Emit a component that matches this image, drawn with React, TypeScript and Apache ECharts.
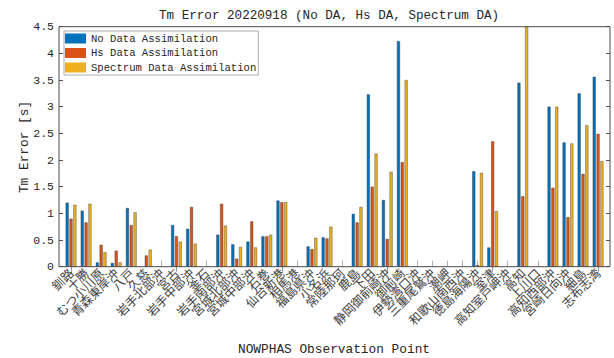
import { useEffect, useRef } from "react";
import * as echarts from "echarts";

const stations = [
  "釧路", "十勝", "むつ小川原", "青森東岸沖", "八戸", "久慈", "岩手北部沖", "宮古", "岩手中部沖",
  "釜石", "岩手南部沖", "宮城北部沖", "宮城中部沖", "石巻", "仙台新港", "相馬港", "福島県沖",
  "小名浜", "常陸那珂", "鹿島", "下田", "静岡御前崎沖", "御前崎", "伊勢湾口沖", "三重尾鷲沖",
  "潮岬", "和歌山南西沖", "徳島海陽沖", "室津", "高知室戸岬沖", "高知", "上川口", "高知西部沖",
  "宮崎日向沖", "細島", "志布志湾",
];

const noDA = [
  1.2, 1.05, 0.08, 0.07, 1.1, null, null, 0.78, 0.71, null, 0.6, 0.42, 0.47, 0.57, 1.24, null,
  0.38, 0.55, null, 0.99, 3.23, 1.25, 4.23, null, null, null, null, 1.79, 0.36, null, 3.45, null,
  3.0, 2.33, 3.25, 3.56,
];
const hsDA = [
  0.9, 0.83, 0.41, 0.3, 0.78, 0.21, null, 0.57, 1.12, null, 1.18, 0.15, 0.85, 0.57, 1.21, null,
  0.33, 0.53, null, 0.83, 1.5, 0.52, 1.96, null, null, null, null, 0.03, 2.35, null, 1.32, null,
  1.48, 0.93, 1.74, 2.49,
];
const spectrumDA = [
  1.16, 1.18, 0.27, 0.08, 1.02, 0.32, null, 0.47, 0.43, null, 0.77, 0.37, 0.36, 0.6, 1.21, null,
  0.54, 0.75, null, 1.12, 2.12, 1.78, 3.5, null, null, null, null, 1.76, 1.04, null, 4.5, null,
  3.0, 2.31, 2.65, 1.98,
];

const seriesNames = ["No Data Assimilation", "Hs Data Assimilation", "Spectrum Data Assimilation"];
const seriesColors = ["#0072BD", "#D95319", "#EDB120"];
const titleText = "Tm Error 20220918 (No DA, Hs DA, Spectrum DA)";
const xAxisName = "NOWPHAS Observation Point";
const yAxisName = "Tm Error [s]";
const yMin = 0;
const yMax = 4.5;
const yStep = 0.5;

const MONO = "'Liberation Mono', 'DejaVu Sans Mono', monospace";
const CJK = "'Noto Sans CJK JP', 'Noto Sans CJK SC', sans-serif";
const AXIS_COLOR = "#262626";

export default function App() {
  const ref = useRef<HTMLDivElement>(null);

  useEffect(() => {
    if (!ref.current) return;
    const chart = echarts.init(ref.current, undefined, { renderer: "svg" });
    const seriesData = [noDA, hsDA, spectrumDA];

    const yAxisCommon = {
      type: "value" as const,
      min: yMin,
      max: yMax,
      interval: yStep,
      splitLine: { show: false },
      axisLine: { show: false },
    };

    chart.setOption({
      animation: false,
      backgroundColor: "#ffffff",
      title: {
        text: titleText,
        left: 159,
        top: 9,
        padding: 0,
        textStyle: { fontFamily: MONO, fontSize: 12.6, fontWeight: "normal", color: AXIS_COLOR },
      },
      legend: {
        left: 64,
        top: 31,
        orient: "vertical",
        icon: "rect",
        itemWidth: 21,
        itemHeight: 10,
        itemGap: 3.5,
        padding: [2, 2, 2, 1],
        borderColor: "#9a9a9a",
        borderWidth: 0.8,
        borderRadius: 0,
        backgroundColor: "#ffffff",
        data: seriesNames,
        itemStyle: { borderWidth: 0 },
        textStyle: { fontFamily: MONO, fontSize: 10.6, color: AXIS_COLOR },
      },
      grid: { left: 63.5, right: 8.4, top: 26.7, bottom: 91.3, containLabel: false },
      xAxis: [
        {
          type: "category",
          data: stations,
          position: "bottom",
          axisLine: { show: false },
          axisTick: {
            show: true,
            inside: true,
            alignWithLabel: true,
            length: 6,
            lineStyle: { color: "#9a9a9a", width: 0.8 },
          },
          axisLabel: {
            interval: 0,
            rotate: 45,
            margin: 4,
            fontFamily: CJK,
            fontSize: 12.2,
            color: "#404040",
          },
        },
        {
          type: "category",
          data: stations,
          position: "top",
          axisLine: { show: false },
          axisTick: {
            show: true,
            inside: true,
            alignWithLabel: true,
            length: 5,
            lineStyle: { color: "#7a7a7a", width: 0.8 },
          },
          axisLabel: { show: false },
        },
      ],
      yAxis: [
        {
          ...yAxisCommon,
          position: "left",
          offset: 4.5,
          axisTick: { show: true, inside: true, length: 4, lineStyle: { color: AXIS_COLOR, width: 0.8 } },
          axisLabel: {
            margin: 5,
            fontFamily: MONO,
            fontSize: 11.5,
            color: AXIS_COLOR,
            formatter: (v: number) => String(v),
          },
        },
        {
          ...yAxisCommon,
          position: "right",
          offset: 4.4,
          axisTick: { show: true, inside: true, length: 4, lineStyle: { color: AXIS_COLOR, width: 0.8 } },
          axisLabel: { show: false },
        },
      ],
      graphic: [
        {
          type: "rect",
          z: 100,
          silent: true,
          shape: { x: 59, y: 26.7, width: 551, height: 240 },
          style: { fill: "none", stroke: "#4a4a4a", lineWidth: 1 },
        },
        {
          type: "text",
          x: 24,
          y: 147,
          rotation: Math.PI / 2,
          style: {
            text: yAxisName,
            fontFamily: MONO,
            fontSize: 12.8,
            fill: AXIS_COLOR,
            align: "center",
            verticalAlign: "middle",
          },
        },
        {
          type: "text",
          x: 334,
          y: 349,
          style: {
            text: xAxisName,
            fontFamily: MONO,
            fontSize: 12.8,
            fill: AXIS_COLOR,
            align: "center",
            verticalAlign: "middle",
          },
        },
      ],
      series: seriesNames.map((name, i) => ({
        name,
        type: "bar",
        xAxisIndex: 0,
        yAxisIndex: 0,
        data: seriesData[i],
        barWidth: 3,
        barGap: "28%",
        itemStyle: { color: seriesColors[i], borderColor: "#3a3a3a", borderWidth: 0.4 },
      })),
    });

    return () => chart.dispose();
  }, []);

  return (
    <div
      ref={ref}
      style={{ position: "fixed", left: 0, top: 0, width: 614, height: 358, background: "#fff" }}
    />
  );
}
